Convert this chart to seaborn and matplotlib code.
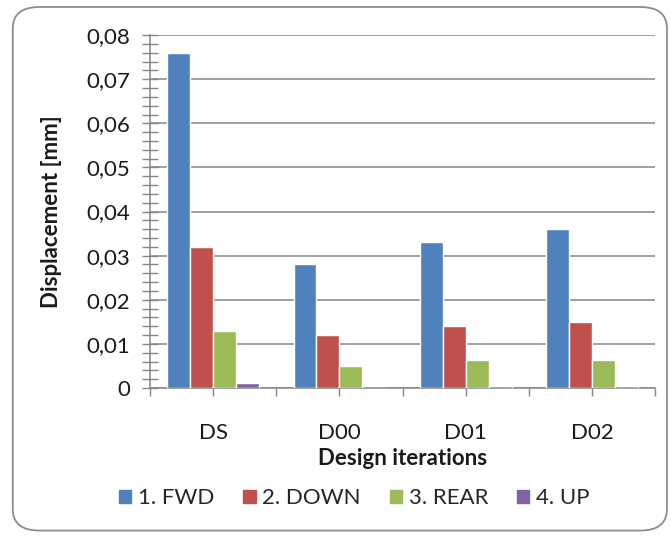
import numpy as np
import pandas as pd
import matplotlib
matplotlib.use('Agg')
import matplotlib.pyplot as plt
from matplotlib.patches import FancyBboxPatch
from matplotlib.ticker import FuncFormatter, MultipleLocator, FixedLocator
import seaborn as sns

# Data
iterations = ['DS', 'D00', 'D01', 'D02']
directions = ['1. FWD', '2. DOWN', '3. REAR', '4. UP']
fwd = [0.076, 0.028, 0.033, 0.036]
down = [0.032, 0.012, 0.014, 0.015]
rear = [0.013, 0.005, 0.0063, 0.0063]
up = [0.0011, 0.0, 0.0004, 0.0004]
colors = ['#4F81BD', '#C0504D', '#9BBB59', '#8064A2']

df = pd.DataFrame({
    'iteration': iterations * 4,
    'direction': np.repeat(directions, len(iterations)),
    'disp': fwd + down + rear + up,
})

sns.set_style('white')
plt.rcParams['font.family'] = ['Lato', 'DejaVu Sans']
grey = '#868686'
txt = '#1a1a1a'
fs = 16

fig = plt.figure(figsize=(6.71, 5.37), dpi=100)
ax = fig.add_axes([0.2235, 0.2775, 0.753, 0.657])

# rounded chart frame
frame = FancyBboxPatch((0.019, 0.012), 0.975, 0.975, boxstyle='round,pad=0,rounding_size=0.04',
                       transform=fig.transFigure, facecolor='none', edgecolor='#8c8c8c',
                       linewidth=1.3, zorder=-1)
fig.patches.append(frame)

sns.barplot(data=df, x='iteration', y='disp', hue='direction', order=iterations,
            hue_order=directions, palette=colors, saturation=1, width=0.727,
            errorbar=None, ax=ax, zorder=3)

ax.set_ylim(0, 0.08)
ax.set_xlim(-0.5, 3.5)
ax.yaxis.set_major_locator(MultipleLocator(0.01))
ax.yaxis.set_minor_locator(MultipleLocator(0.002))
ax.yaxis.set_major_formatter(FuncFormatter(lambda v, p: '0' if abs(v) < 1e-9 else f'{v:.2f}'.replace('.', ',')))
ax.grid(axis='y', which='major', color=grey, linewidth=1.1, zorder=0)
ax.set_axisbelow(True)

ax.xaxis.set_minor_locator(FixedLocator([-0.5, 0.5, 1.5, 2.5, 3.5]))
ax.tick_params(axis='x', which='both', direction='out', length=6, color=grey, width=1)
ax.tick_params(axis='x', which='major', pad=19, labelsize=fs, labelcolor=txt)
ax.tick_params(axis='y', which='both', direction='inout', length=12, color=grey, width=1)
ax.tick_params(axis='y', which='major', pad=8, labelsize=fs, labelcolor=txt)
ax.tick_params(left=True, bottom=True, which='both')

for side in ['top', 'right']:
    ax.spines[side].set_visible(False)
for side in ['left', 'bottom']:
    ax.spines[side].set_color(grey)
    ax.spines[side].set_linewidth(1.1)

ax.set_xlabel('Design iterations', fontsize=fs, fontweight='bold', labelpad=4, color=txt)
ax.set_ylabel('Displacement [mm]', fontsize=fs, fontweight='bold', labelpad=18, color=txt)

ax.get_legend().remove()
handles = [plt.Rectangle((0, 0), 1, 1, color=c) for c in colors]
fig.legend(handles, directions, loc='center', bbox_to_anchor=(0.528, 0.072), ncol=4,
           frameon=False, fontsize=fs, handlelength=0.55, handleheight=0.55,
           handletextpad=0.3, columnspacing=1.3)

fig.savefig('out.png', dpi=100)
